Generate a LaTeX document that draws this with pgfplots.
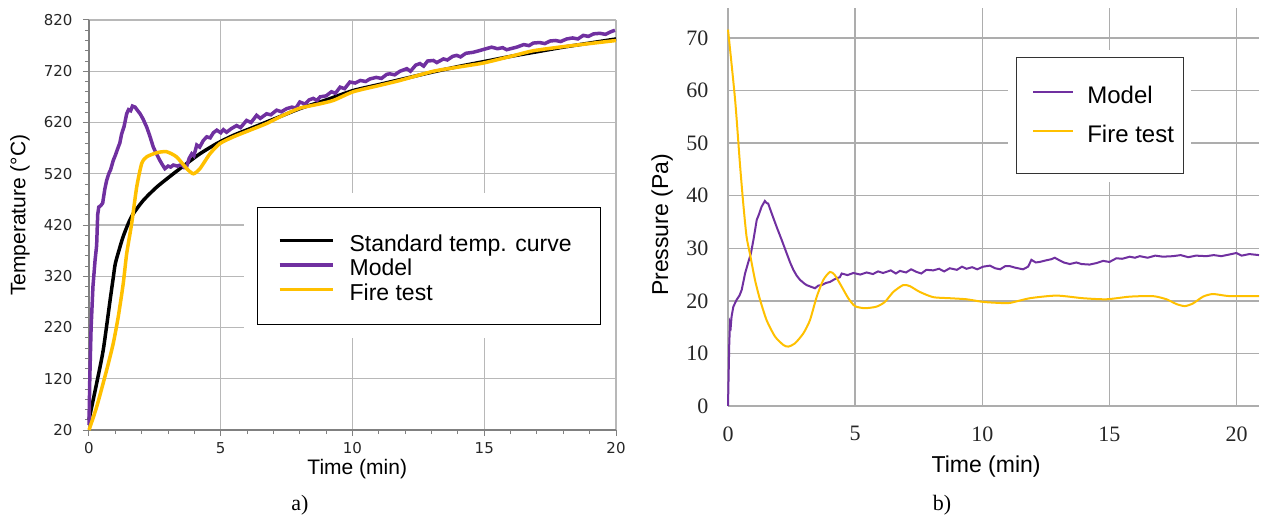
\documentclass[border=0pt]{standalone}
\usepackage{fontspec}
\setmainfont{Liberation Sans}
\newfontfamily\dejavu{DejaVu Sans}
\newfontfamily\tnr{Liberation Serif}
\usepackage{pgfplots}
\pgfplotsset{compat=1.18}
\definecolor{cmodel}{HTML}{7030A0}
\definecolor{cfire}{HTML}{FFC000}

\begin{document}
\begin{tikzpicture}[x=1pt,y=1pt]
\useasboundingbox (0,0) rectangle (1268,520);

% a) temperature
\begin{axis}[at={(89pt,90pt)}, anchor=south west, scale only axis,
  width=527pt, height=410pt,
  xmin=0, xmax=20, ymin=20, ymax=820,
  xtick={0,5,10,15,20}, ytick={20,120,220,320,420,520,620,720,820},
  minor x tick num=4, minor y tick num=4,
  axis x line*=bottom, axis y line*=left,
  axis line style={black!50, line width=1.2pt, -},
  tick align=outside, major tick length=6pt, minor tick length=4pt,
  tick style={black!50, line width=1pt},
  grid=major, major grid style={black!28, line width=1.1pt},
  /pgf/number format/assume math mode=true,
  tick label style={font=\dejavu\fontsize{15}{15}\selectfont, text=black!85},
  xticklabel style={yshift=-3pt}, yticklabel style={xshift=-7pt},
  xlabel={Time (min)}, ylabel={Temperature (°C)},
  label style={font=\fontsize{21}{21}\selectfont},
  x label style={at={(axis description cs:0.509,-0.096)}, anchor=center},
  y label style={at={(axis description cs:-0.131,0.524)}, anchor=center, rotate=0},
  legend style={at={(axis description cs:0.319,0.544)}, anchor=north west,
    draw=black, fill=white, line width=1pt, inner xsep=8pt, inner ysep=19pt,
    font=\fontsize{23}{23}\selectfont, row sep=-5.5pt,
    nodes={inner sep=0pt, text height=15pt, text depth=5pt},
    preaction={draw=white, line width=28pt},
    /tikz/every odd column/.append style={column sep=3pt}},
  legend cell align=left,
  legend image code/.code={\draw[#1] (0pt,6pt) -- (53pt,6pt);},
  clip=false]
\addplot[black, line width=3.5pt, smooth, tension=0.4] coordinates {
(0,40) (0.29,111) (0.54,176) (0.8,273) (0.92,317) (1.0,345) (1.18,378) (1.3,398)
(1.5,424) (1.68,442) (2.06,468) (2.57,494) (3.2,520) (3.71,540) (4.21,559) (4.85,579)
(5.48,595) (6.11,608) (6.74,621) (7.37,634) (8,647) (9,664) (10,682) (11,694) (12,706)
(13,718) (14,729) (15,739) (16,749) (17,758) (18,767) (19,775) (20,783)};
\addlegendentry{Standard temp. curve\rule{21pt}{0pt}}
\addplot[cmodel, line width=3.5pt] coordinates {
(0,30) (0.03,120) (0.08,220) (0.15,300) (0.23,351) (0.29,380) (0.33,440) (0.37,455)
(0.45,458) (0.52,463) (0.6,490) (0.67,507) (0.75,520) (0.82,528) (0.92,546) (1.0,556)
(1.11,572) (1.17,580) (1.24,598) (1.33,612) (1.43,637) (1.5,645) (1.58,643) (1.65,652)
(1.75,650) (1.82,645) (1.94,637) (2.05,627) (2.19,611) (2.3,595) (2.44,572) (2.55,560)
(2.69,546) (2.78,538) (2.88,530) (3.0,535) (3.1,533) (3.2,537) (3.35,535) (3.52,538)
(3.62,532) (3.7,533) (3.8,550) (3.9,559) (3.98,555) (4.09,576) (4.2,572) (4.34,585)
(4.47,592) (4.6,590) (4.72,600) (4.85,605) (5.0,600) (5.1,606) (5.22,601) (5.4,608)
(5.6,614) (5.75,610) (5.98,624) (6.15,620) (6.36,634) (6.5,628) (6.74,637) (6.9,635)
(7.12,644) (7.3,641) (7.5,647) (7.7,650) (7.85,648) (8.0,660) (8.2,656) (8.35,664)
(8.51,667) (8.65,663) (8.77,670) (9.0,672) (9.2,680) (9.35,677) (9.53,689) (9.7,686)
(9.9,699) (10.1,697) (10.3,702) (10.5,700) (10.66,705) (10.9,708) (11.1,706) (11.3,714)
(11.42,715) (11.6,713) (11.8,720) (12.06,725) (12.2,720) (12.4,732) (12.56,735) (12.7,730)
(12.85,740) (13.07,741) (13.2,737) (13.45,744) (13.6,742) (13.8,749) (13.95,751) (14.1,748)
(14.3,755) (14.58,757) (14.8,760) (15.0,763) (15.28,767) (15.5,764) (15.7,766) (15.85,762)
(16.0,764) (16.23,767) (16.5,772) (16.7,770) (16.86,775) (17.1,776) (17.3,774) (17.5,779)
(17.7,780) (17.9,778) (18.13,783) (18.35,785) (18.55,783) (18.76,790) (18.95,788) (19.15,793)
(19.39,794) (19.6,792) (19.8,797) (19.96,800)};
\addlegendentry{Model}
\addplot[cfire, line width=3.5pt, smooth, tension=0.4] coordinates {
(0,20) (0.29,65) (0.67,137) (0.92,189) (1.11,241) (1.3,306) (1.43,364) (1.62,423)
(1.81,494) (2.0,540) (2.19,553) (2.57,561) (2.94,563) (3.32,553) (3.71,530) (3.96,520)
(4.21,530) (4.59,559) (4.97,579) (5.48,592) (6.11,605) (6.74,618) (7.37,634) (8.0,648)
(8.64,655) (9.27,663) (10.03,680) (11.0,692) (11.8,702) (13.07,720) (14.0,728) (14.96,736)
(16.0,749) (16.86,760) (18.0,768) (19.0,774) (20,780)};
\addlegendentry{Fire test}
\end{axis}

% b) pressure
\begin{axis}[at={(728pt,114pt)}, anchor=south west, scale only axis,
  width=531pt, height=398pt,
  xmin=0, xmax=20.88, ymin=0, ymax=75.7,
  xtick={0,5,10,15,20}, ytick={0,10,20,30,40,50,60,70},
  axis line style={draw=none}, tick style={draw=none}, major tick length=0pt,
  grid=major, major grid style={black!32, line width=1.5pt},
  /pgf/number format/assume math mode=true,
  tick label style={font=\tnr\fontsize{22}{22}\selectfont, text=black!85},
  xticklabel style={yshift=-17pt}, yticklabel style={xshift=-16pt},
  xlabel={Time (min)}, ylabel={Pressure (Pa)},
  label style={font=\fontsize{23}{23}\selectfont},
  x label style={at={(axis description cs:0.486,-0.153)}, anchor=center},
  y label style={at={(axis description cs:-0.124,0.455)}, anchor=center, rotate=0},
  legend style={at={(axis description cs:0.542,0.876)}, anchor=north west,
    draw=black!80, fill=white, line width=1pt, inner xsep=9pt, inner ysep=26pt,
    font=\fontsize{24}{24}\selectfont, row sep=14pt,
    nodes={inner sep=0pt, text height=17pt, text depth=5pt},
    preaction={draw=white, line width=16pt},
    /tikz/every odd column/.append style={column sep=6pt}},
  legend cell align=left,
  legend image code/.code={\draw[#1] (0pt,6pt) -- (40pt,6pt);},
  clip=false]
\addplot[cmodel, line width=2pt] coordinates {
(0,0) (0.05,12) (0.08,15.7) (0.11,15.2) (0.14,17) (0.21,18.9) (0.34,20.2) (0.45,21.0)
(0.54,22.1) (0.67,25.2) (0.8,27.4) (0.9,29.0) (1.0,31.6) (1.13,35.4) (1.22,36.5) (1.32,37.9)
(1.45,39.0) (1.52,38.6) (1.58,38.5) (1.72,36.6) (1.91,34.1) (2.11,31.6) (2.31,29.0) (2.45,27.2)
(2.57,25.9) (2.7,24.8) (2.83,24.0) (3.0,23.3) (3.09,23.0) (3.25,22.7) (3.42,22.4) (3.55,22.9)
(3.68,23.0) (3.85,23.4) (4.01,23.6) (4.15,24.0) (4.27,24.3) (4.4,24.5) (4.47,25.2) (4.7,24.9)
(4.93,25.3) (5.2,25.0) (5.45,25.4) (5.7,25.1) (5.9,25.6) (6.1,25.3) (6.4,25.8) (6.6,25.2)
(6.76,25.7) (7.0,25.4) (7.2,26.0) (7.41,25.5) (7.6,25.2) (7.8,25.9) (8.07,25.8) (8.3,26.1)
(8.5,25.6) (8.72,26.2) (9.0,25.9) (9.2,26.5) (9.38,26.1) (9.6,26.4) (9.8,26.0) (10.03,26.5)
(10.3,26.7) (10.5,26.2) (10.7,26.0) (10.9,26.6) (11.08,26.6) (11.3,26.3) (11.6,26.0) (11.8,26.5)
(11.93,27.8) (12.1,27.3) (12.26,27.4) (12.5,27.7) (12.7,27.9) (12.85,28.2) (13.0,27.8) (13.2,27.3)
(13.44,27.0) (13.7,27.3) (13.9,27.0) (14.22,26.9) (14.5,27.2) (14.75,27.6) (15.0,27.4) (15.27,28.1)
(15.5,28.0) (15.8,28.4) (16.0,28.2) (16.19,28.5) (16.5,28.2) (16.8,28.6) (17.1,28.4) (17.5,28.5)
(17.8,28.7) (18.1,28.3) (18.4,28.6) (18.81,28.5) (19.1,28.7) (19.4,28.5) (19.7,28.8) (19.99,29.1)
(20.2,28.6) (20.5,28.9) (20.88,28.7)};
\addlegendentry{Model}
\addplot[cfire, line width=2pt, smooth, tension=0.4] coordinates {
(0,71.6) (0.28,58.2) (0.47,46) (0.6,38.5) (0.73,32.2) (0.86,29.0) (1.06,24.0) (1.26,20.2)
(1.52,16.3) (1.85,13.2) (2.18,11.6) (2.37,11.3) (2.63,11.9) (2.96,13.8) (3.22,16.3) (3.49,20.8)
(3.75,24.0) (4.01,25.5) (4.2,24.9) (4.47,22.7) (4.73,20.5) (4.99,19.0) (5.38,18.6) (5.84,18.9)
(6.17,19.8) (6.5,21.7) (6.89,23.0) (7.15,22.8) (7.54,21.7) (8.07,20.7) (8.72,20.5) (9.38,20.3)
(10.03,19.8) (10.69,19.6) (11.08,19.6) (11.87,20.5) (12.92,21.0) (13.96,20.5) (14.88,20.3)
(15.8,20.8) (16.71,20.9) (17.24,20.3) (17.63,19.4) (17.96,19.0) (18.28,19.5) (18.68,20.8)
(19.07,21.3) (19.72,20.9) (20.88,20.9)};
\addlegendentry{Fire test}
\end{axis}

\node[font=\tnr\fontsize{22}{22}\selectfont] at (300,15) {a)};
\node[font=\tnr\fontsize{22}{22}\selectfont] at (942,15) {b)};
\end{tikzpicture}
\end{document}
